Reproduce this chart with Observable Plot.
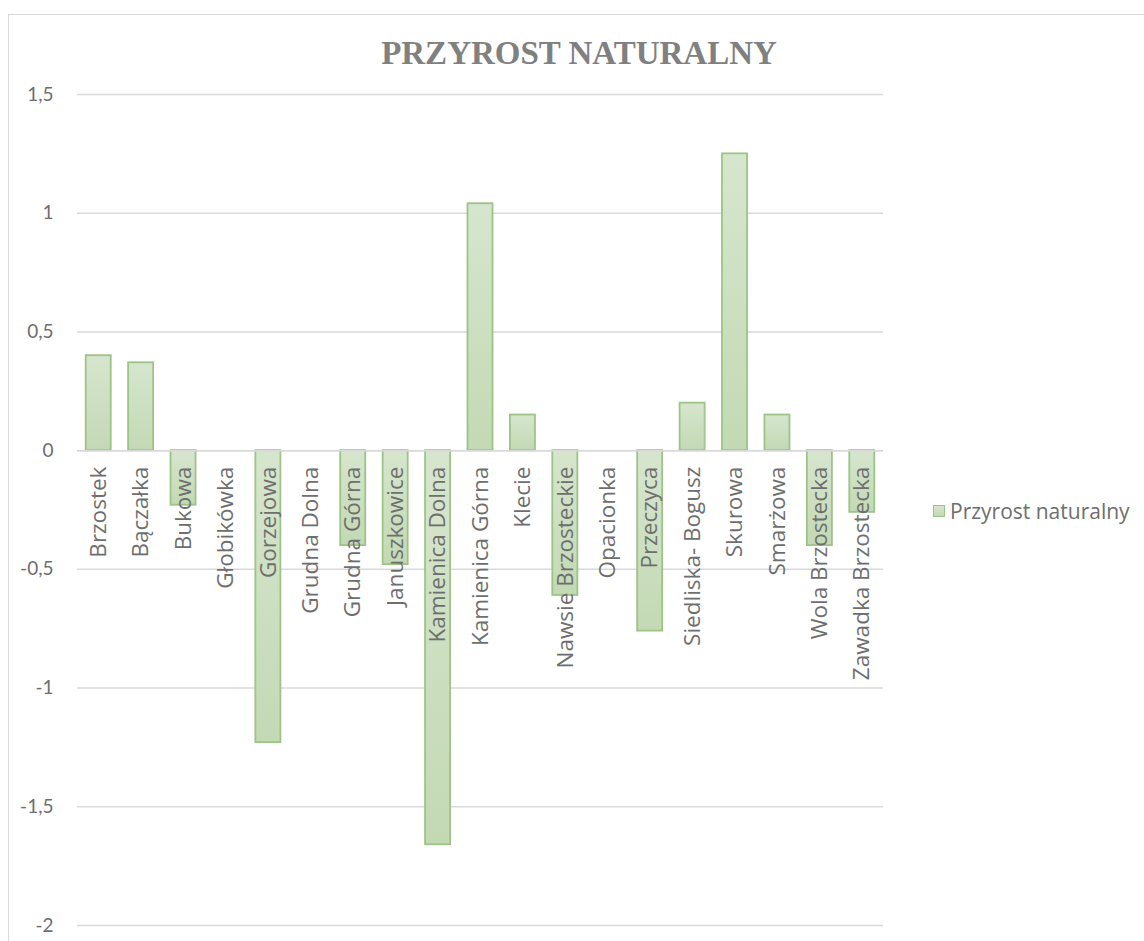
<!DOCTYPE html>
<html>
<head>
<meta charset="utf-8">
<script src="https://cdn.jsdelivr.net/npm/d3@7"></script>
<script src="https://cdn.jsdelivr.net/npm/@observablehq/plot@0.6"></script>
<style>
  html, body { margin: 0; padding: 0; background: #fff; width: 1144px; height: 941px; overflow: hidden; }
  #wrap { position: relative; width: 1144px; height: 941px; }
  #frame { position: absolute; left: 8px; top: 14px; width: 1200px; height: 1000px; border: 1.5px solid #d9d9d9; box-sizing: border-box; }
  #title { position: absolute; left: 0; width: 1158px; top: 35px; text-align: center; font-family: "Liberation Serif", "DejaVu Serif", serif; font-weight: bold; font-size: 33px; color: #808080; }
  #legend { position: absolute; left: 933px; top: 497px; font-family: "Open Sans", Lato, sans-serif; font-size: 21px; color: #6e6e6e; display: flex; align-items: center; }
  #legend .sw { width: 10px; height: 10px; border: 1.5px solid #9cc487; background: linear-gradient(#d6e6ce, #c3d9b4); margin-right: 5px; }
  #chart { position: absolute; left: 0; top: 0; }
</style>
</head>
<body>
<div id="wrap">
  <div id="frame"></div>
  <div id="chart"></div>
  <div id="title">PRZYROST NATURALNY</div>
  <div id="legend"><div class="sw"></div><span>Przyrost naturalny</span></div>
</div>
<script>
const categories = ["Brzostek", "Bączałka", "Bukowa", "Głobikówka", "Gorzejowa", "Grudna Dolna", "Grudna Górna", "Januszkowice", "Kamienica Dolna", "Kamienica Górna", "Klecie", "Nawsie Brzosteckie", "Opacionka", "Przeczyca", "Siedliska- Bogusz", "Skurowa", "Smarżowa", "Wola Brzostecka", "Zawadka Brzostecka"];
const values = [0.40, 0.37, -0.23, 0, -1.23, 0, -0.40, -0.48, -1.66, 1.04, 0.15, -0.61, 0, -0.76, 0.20, 1.25, 0.15, -0.40, -0.26];
const yTicks = [-2, -1.5, -1, -0.5, 0, 0.5, 1, 1.5];

const data = categories.map((c, i) => ({category: c, value: values[i]}));

const chart = Plot.plot({
  width: 1144,
  height: 941,
  marginLeft: 77,
  marginRight: 261,
  marginTop: 94,
  marginBottom: 16,
  style: {background: "transparent", overflow: "visible"},
  x: {domain: categories, paddingInner: 0.41, paddingOuter: 0.205, round: false, axis: null},
  y: {domain: [-2, 1.5], axis: null},
  marks: [
    Plot.gridY(yTicks, {stroke: "#d9d9d9", strokeOpacity: 1, strokeWidth: 1.5}),
    Plot.barY(data, {x: "category", y: "value", fill: "url(#barGrad)", stroke: "#9cc487", strokeWidth: 1.8}),
    Plot.ruleY([0], {stroke: "#d9d9d9", strokeWidth: 1.5}),
    Plot.axisY(yTicks, {
      tickSize: 0, tickPadding: 24, label: null,
      tickFormat: d => String(d).replace(".", ","),
      fontSize: 19, fontFamily: "Lato, 'Open Sans', sans-serif", fill: "#6e6e6e"
    }),
    Plot.text(data, {
      x: "category", y: () => 0, text: "category",
      rotate: -90, textAnchor: "end", dy: 16,
      fontSize: 22.5, fontFamily: "'Open Sans', Lato, sans-serif", fill: "#6e6e6e"
    })
  ]
});

const svg = d3.select(chart);
const defs = svg.insert("defs", ":first-child");
const g = defs.append("linearGradient").attr("id", "barGrad").attr("x1", 0).attr("y1", 0).attr("x2", 0).attr("y2", 1);
g.append("stop").attr("offset", "0%").attr("stop-color", "#d6e6ce");
g.append("stop").attr("offset", "100%").attr("stop-color", "#c3d9b4");

document.getElementById("chart").appendChild(chart);
</script>
</body>
</html>
